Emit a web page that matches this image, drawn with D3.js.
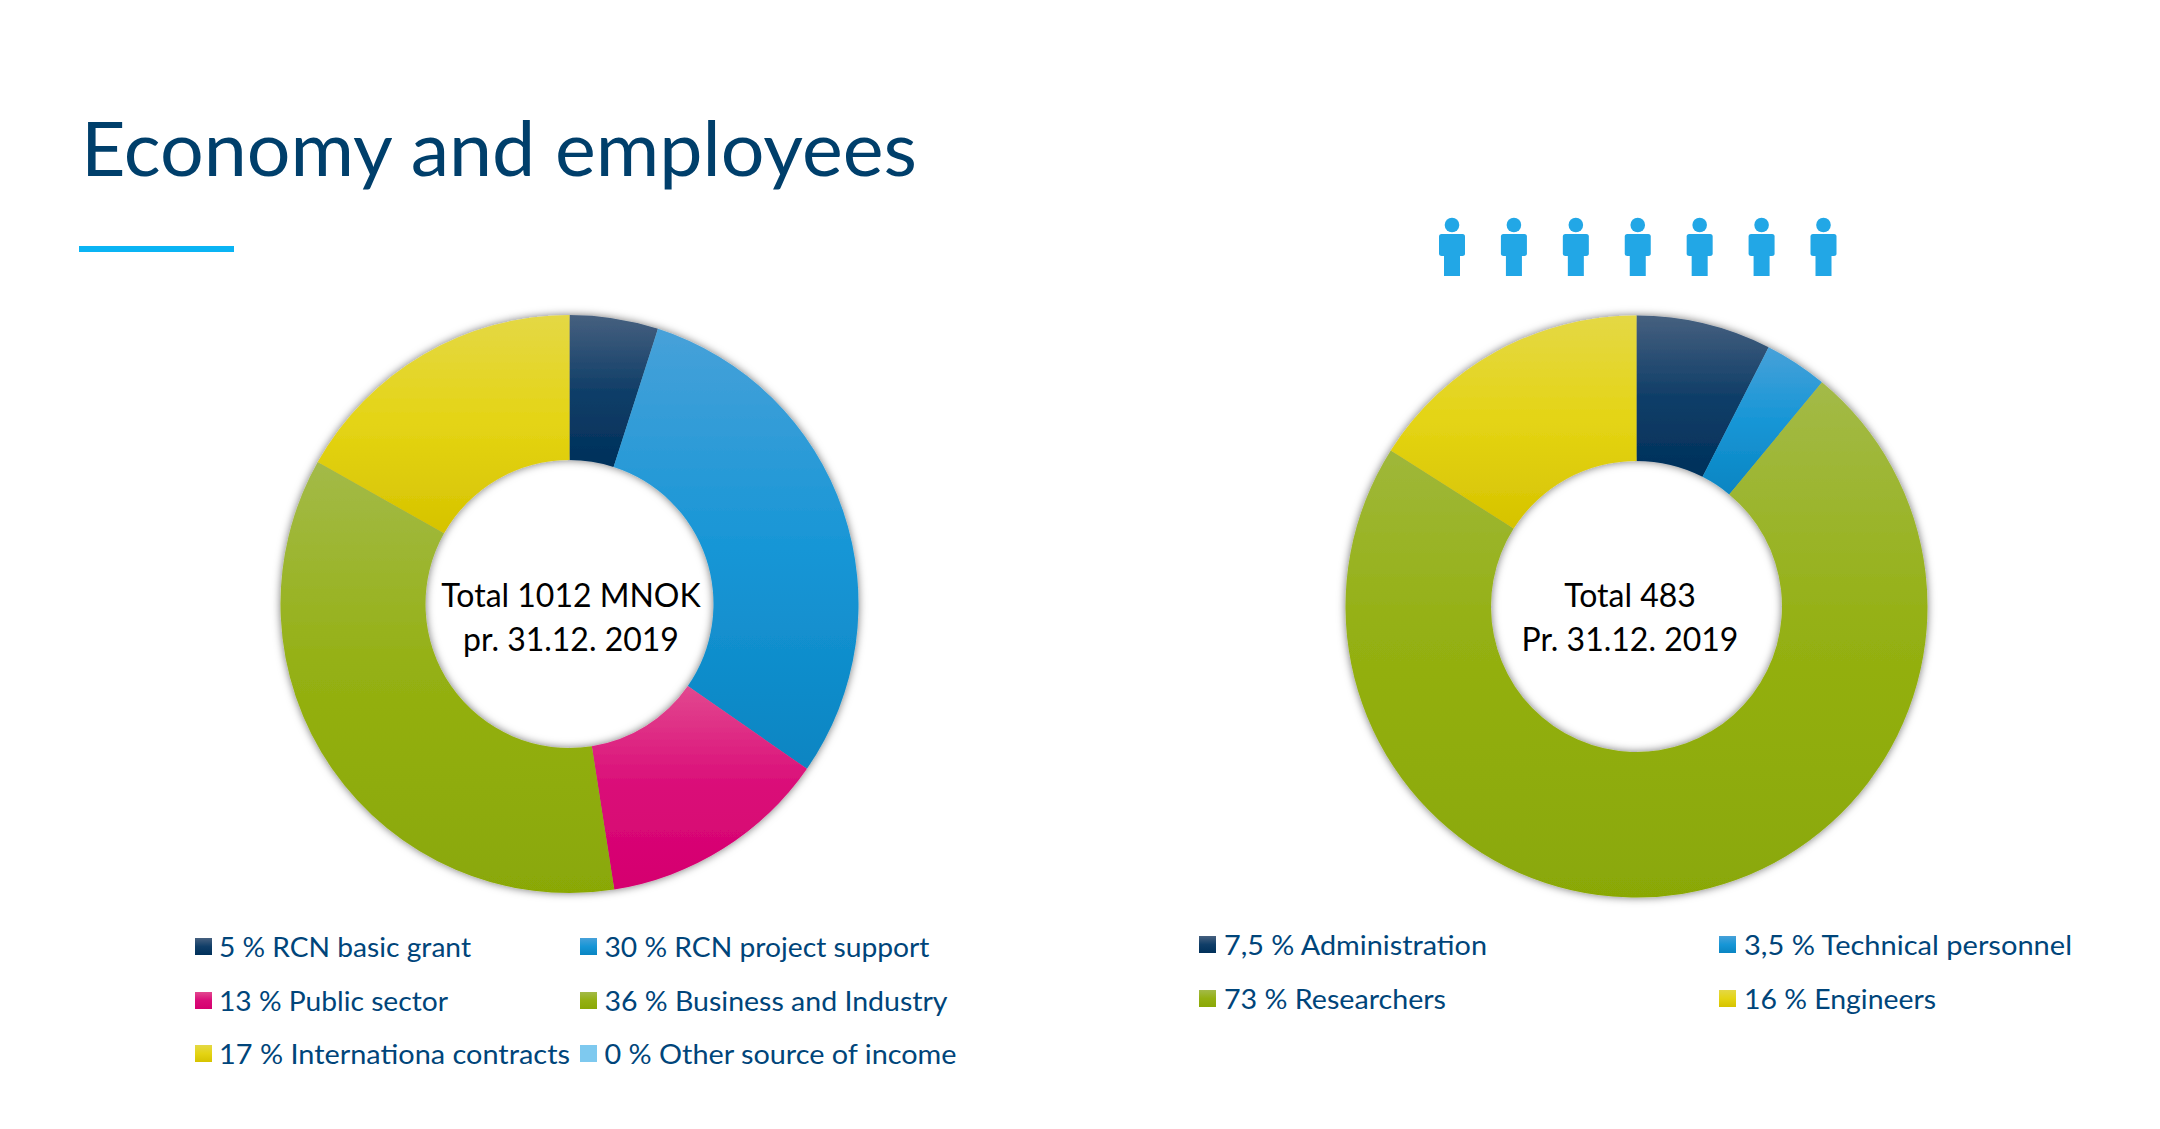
<!DOCTYPE html>
<html>
<head>
<title>Economy and employees</title>
<style>
  html, body { margin: 0; padding: 0; background: #fff; }
  svg { display: block; }
  text { font-family: Lato, "Open Sans", sans-serif; }
</style>
<script src="https://cdn.jsdelivr.net/npm/d3@7/dist/d3.min.js"></script>
</head>
<body>
<div id="area"></div>
<script>
// income split, percent
var incomeLabels = ['RCN basic grant', 'RCN project support', 'Public sector', 'Business and Industry', 'Internationa contracts', 'Other source of income'];
var incomeValues = [5, 30, 13, 36, 17, 0];
var incomeValueText = ['5', '30', '13', '36', '17', '0'];
var incomeCenter = ['Total 1012 MNOK', 'pr. 31.12. 2019'];

// staff split, percent
var staffLabels = ['Administration', 'Technical personnel', 'Researchers', 'Engineers'];
var staffValues = [7.5, 3.5, 73, 16];
var staffValueText = ['7,5', '3,5', '73', '16'];
var staffCenter = ['Total 483', 'Pr. 31.12. 2019'];

var personCount = 7;

// [top, middle, bottom] of each slice gradient
var navy = ['#46607f', '#103e68', '#00305a'];
var blue = ['#47a1d9', '#1796d6', '#0a85c2'];
var pink = ['#e2488f', '#da0c78', '#d5006f'];
var green = ['#a3ba48', '#94b012', '#8aa806'];
var yellow = ['#e4d845', '#e4d414', '#d6c300'];
var sky = ['#7ec9ef', '#7ec9ef', '#7ec9ef'];

var incomeColors = [navy, blue, pink, green, yellow, sky];
var staffColors = [navy, blue, green, yellow];

// text widths of the legend entries, so they run as long as in the slide
var incomeWidths = [252, 325, 229, 343, 351, 352];
var staffWidths = [263, 328, 222, 192];

var W = 2160, H = 1129;
var svg = d3.select('#area').append('svg').attr('width', W).attr('height', H);
var defs = svg.append('defs');

var shadow = defs.append('filter').attr('id', 'ringShadow')
  .attr('x', '-5%').attr('y', '-5%').attr('width', '110%').attr('height', '110%');
shadow.append('feDropShadow')
  .attr('dx', 0).attr('dy', 0).attr('stdDeviation', 4.5)
  .attr('flood-color', '#000').attr('flood-opacity', 0.55);

var gradCount = 0;
var addGradient = function(c) {
  var id = 'grad' + (gradCount++);
  var g = defs.append('linearGradient').attr('id', id)
    .attr('x1', 0).attr('y1', 0).attr('x2', 0).attr('y2', 1);
  g.append('stop').attr('offset', '0%').attr('stop-color', c[0]);
  g.append('stop').attr('offset', '50%').attr('stop-color', c[1]);
  g.append('stop').attr('offset', '100%').attr('stop-color', c[2]);
  return 'url(#' + id + ')';
};

// title + rule
svg.append('text').attr('x', 81).attr('y', 176)
  .attr('font-size', 75).attr('fill', '#003f6b')
  .attr('textLength', 836).attr('lengthAdjust', 'spacingAndGlyphs')
  .text('Economy and employees');
svg.append('rect').attr('x', 79).attr('y', 246).attr('width', 155).attr('height', 6).attr('fill', '#0ab4f4');

var drawDonut = function(values, colors, center, cx, cy, rOuter, rInner, textX) {
  var pie = d3.pie().sort(null)(values);
  var arc = d3.arc().innerRadius(rInner).outerRadius(rOuter);
  var g = svg.append('g').attr('transform', 'translate(' + cx + ',' + cy + ')').attr('filter', 'url(#ringShadow)');
  g.selectAll('path').data(pie).enter().append('path')
    .attr('d', arc)
    .attr('fill', function(d, i) { return addGradient(colors[i]); });

  svg.selectAll(null).data(center).enter().append('text')
    .attr('x', textX)
    .attr('y', function(d, i) { return 607 + i * 44; })
    .attr('text-anchor', 'middle')
    .attr('font-size', 32).attr('fill', '#000')
    .text(function(d) { return d; });
};

drawDonut(incomeValues, incomeColors, incomeCenter, 569.5, 604, 289, 144, 571);
drawDonut(staffValues, staffColors, staffCenter, 1636.5, 606.5, 291, 145.5, 1630);

var drawLegend = function(labels, valueText, colors, widths, colX, textX, rowY, textDy) {
  labels.forEach(function(label, i) {
    var col = i % 2, row = Math.floor(i / 2);
    svg.append('rect').attr('x', colX[col]).attr('y', rowY[row] - 17)
      .attr('width', 17).attr('height', 17)
      .attr('fill', addGradient(colors[i]));
    svg.append('text').attr('x', textX[col]).attr('y', rowY[row] + textDy)
      .attr('font-size', 27).attr('fill', '#00457a')
      .attr('textLength', widths[i]).attr('lengthAdjust', 'spacingAndGlyphs')
      .text(valueText[i] + ' % ' + label);
  });
};

drawLegend(incomeLabels, incomeValueText, incomeColors, incomeWidths, [195, 580], [219, 604.5], [955, 1009, 1062], 1.5);
drawLegend(staffLabels, staffValueText, staffColors, staffWidths, [1199, 1719], [1224, 1744], [953, 1007], 2);

// row of people above the staff donut
var personX = d3.scalePoint().domain(d3.range(personCount)).range([1452, 1823.5]);
var person = svg.selectAll('g.person').data(d3.range(personCount)).enter().append('g')
  .attr('class', 'person')
  .attr('fill', '#22a7e6')
  .attr('transform', function(d) { return 'translate(' + personX(d) + ',225)'; });
person.append('circle').attr('r', 7.3);
person.append('rect').attr('x', -13).attr('y', 9).attr('width', 26).attr('height', 22).attr('rx', 2.5);
person.append('rect').attr('x', -8).attr('y', 25).attr('width', 16).attr('height', 26);
</script>
</body>
</html>
